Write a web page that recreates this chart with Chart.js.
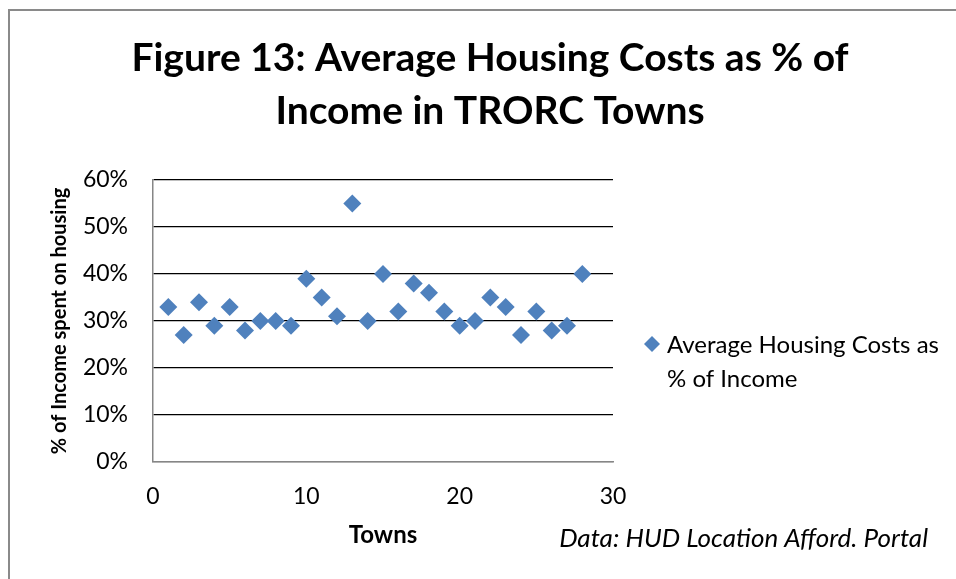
<!DOCTYPE html>
<html>
<head>
<meta charset="utf-8">
<script src="https://cdn.jsdelivr.net/npm/chart.js@4"></script>
<style>
  html, body { margin: 0; padding: 0; background: #fff; }
  canvas { display: block; }
</style>
</head>
<body>
<canvas id="housingChart" width="956" height="579"></canvas>
<script>
// Datos del gráfico
const titleLines = ['Figure 13: Average Housing Costs as % of', 'Income in TRORC Towns'];
const seriesLabel = ['Average Housing Costs as', '% of Income'];
const towns = [1, 2, 3, 4, 5, 6, 7, 8, 9, 10, 11, 12, 13, 14, 15, 16, 17, 18, 19, 20, 21, 22, 23, 24, 25, 26, 27, 28];
const costShare = [33, 27, 34, 29, 33, 28, 30, 30, 29, 39, 35, 31, 55, 30, 40, 32, 38, 36, 32, 29, 30, 35, 33, 27, 32, 28, 29, 40];
const xTicks = [0, 10, 20, 30];
const yTicks = [0, 10, 20, 30, 40, 50, 60];
const xTitle = 'Towns';
const yTitle = '% of Income spent on housing';
const sourceNote = 'Data: HUD Location Afford. Portal';

const blue = '#4F81BD';
const axisGrey = '#868686';
const fontFam = 'Lato, "Open Sans", sans-serif';

// Título, leyenda, nota y marco
const decorPlugin = {
    id: 'decor',
    beforeDraw(chart) {
        const ctx = chart.ctx;
        ctx.save();
        ctx.fillStyle = '#fff';
        ctx.fillRect(0, 0, chart.width, chart.height);
        ctx.strokeStyle = '#8a8a8a';
        ctx.lineWidth = 2;
        ctx.strokeRect(9, 10, chart.width + 20, chart.height + 20);
        ctx.restore();
    },
    afterDraw(chart) {
        const ctx = chart.ctx;
        ctx.save();
        ctx.fillStyle = '#000';
        ctx.textAlign = 'center';
        ctx.textBaseline = 'middle';
        ctx.font = 'bold 39px ' + fontFam;
        ctx.fillText(titleLines[0], 490, 58);
        ctx.fillText(titleLines[1], 490, 111);

        // leyenda
        const lx = 652, ly = 344, r = 8;
        ctx.fillStyle = blue;
        ctx.beginPath();
        ctx.moveTo(lx - r, ly);
        ctx.lineTo(lx, ly - r);
        ctx.lineTo(lx + r, ly);
        ctx.lineTo(lx, ly + r);
        ctx.closePath();
        ctx.fill();
        ctx.fillStyle = '#000';
        ctx.textAlign = 'left';
        ctx.font = '24px ' + fontFam;
        ctx.fillText(seriesLabel[0], 667, 345);
        ctx.fillText(seriesLabel[1], 667, 379);

        // nota de fuente
        ctx.textAlign = 'right';
        ctx.font = 'italic 26px ' + fontFam;
        ctx.fillText(sourceNote, 928, 539);
        ctx.restore();
    }
};

const chart = new Chart(document.getElementById('housingChart'), {
    type: 'scatter',
    data: {
        datasets: [{
            label: seriesLabel.join(' '),
            data: towns.map((t, i) => ({ x: t, y: costShare[i] })),
            pointStyle: 'rectRot',
            pointRadius: 9,
            pointHoverRadius: 9,
            backgroundColor: blue,
            borderColor: blue,
            borderWidth: 0
        }]
    },
    options: {
        responsive: false,
        animation: false,
        events: [],
        layout: { padding: { left: 48, top: 180, right: 343, bottom: 29 } },
        plugins: {
            legend: { display: false },
            title: { display: false },
            tooltip: { enabled: false }
        },
        scales: {
            x: {
                type: 'linear',
                min: 0,
                max: 30,
                afterBuildTicks: s => { s.ticks = xTicks.map(v => ({ value: v })); },
                afterFit: s => { s.height = 88; },
                grid: { display: false, drawTicks: false },
                border: { display: true, color: axisGrey, width: 1.5 },
                ticks: { color: '#000', padding: 21, font: { family: fontFam, size: 23 } },
                title: {
                    display: true,
                    text: xTitle,
                    color: '#000',
                    padding: 0,
                    font: { family: fontFam, size: 24, weight: 'bold' }
                }
            },
            y: {
                min: 0,
                max: 60,
                afterBuildTicks: s => { s.ticks = yTicks.map(v => ({ value: v })); },
                afterFit: s => { s.width = 105; },
                grid: {
                    drawTicks: false,
                    color: c => (c.tick && c.tick.value === 0 ? axisGrey : '#000'),
                    lineWidth: 1.2
                },
                border: { display: true, color: axisGrey, width: 1.5 },
                ticks: {
                    color: '#000',
                    padding: 25,
                    font: { family: fontFam, size: 23 },
                    callback: v => v + '%'
                },
                title: {
                    display: true,
                    text: yTitle,
                    color: '#000',
                    padding: 0,
                    font: { family: fontFam, size: 20, weight: 'bold' }
                }
            }
        }
    },
    plugins: [decorPlugin]
});
</script>
</body>
</html>
